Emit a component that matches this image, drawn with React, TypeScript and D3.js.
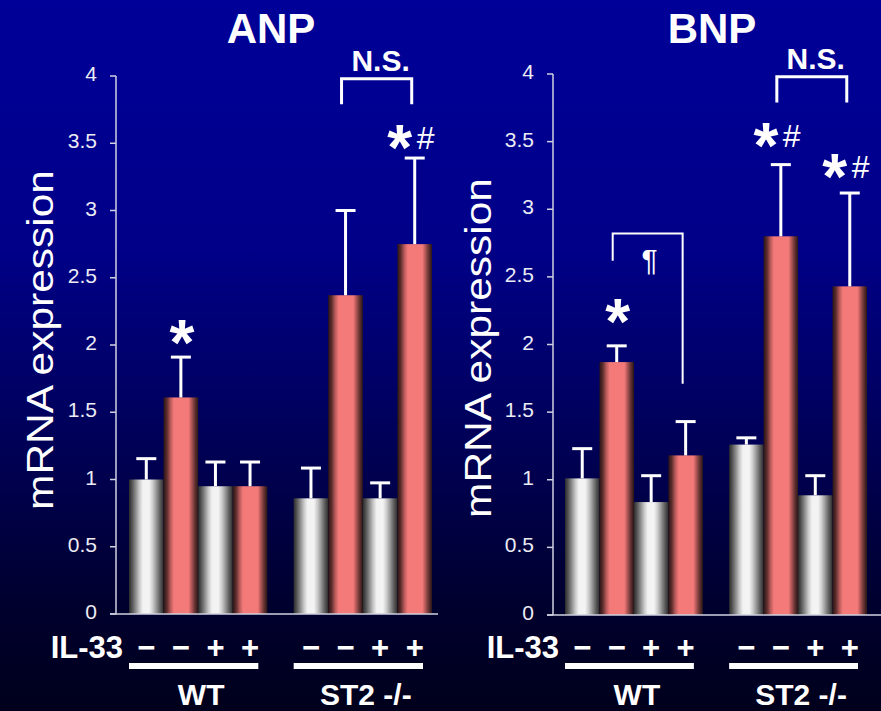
import React from "react";
import * as d3 from "d3";

const groups = ["WT", "ST2 -/-"];
const il33 = ["\u2212", "\u2212", "+", "+"];
const barKinds = ["white", "pink", "white", "pink"];
const yTicks = [0, 0.5, 1, 1.5, 2, 2.5, 3, 3.5, 4];

// ANP: mean and SE (upper error bar only)
const anpMean = [1.0, 1.61, 0.95, 0.95, 0.86, 2.37, 0.86, 2.75];
const anpSE = [0.155, 0.3, 0.18, 0.18, 0.225, 0.63, 0.115, 0.64];

// BNP
const bnpMean = [1.01, 1.87, 0.835, 1.18, 1.26, 2.8, 0.885, 2.43];
const bnpSE = [0.22, 0.12, 0.195, 0.25, 0.05, 0.53, 0.145, 0.69];

const font = "'Liberation Sans', Arial, sans-serif";

const panels = [
  {
    title: "ANP",
    titleX: 271,
    mean: anpMean,
    se: anpSE,
    axisX: 116,
    y0: 614,
    y4: 76,
    barRange: [129, 432],
    baseEnd: 438,
    labelX: 53,
    labelY: 340,
    marks: [
      { bar: 1, hash: false, dy: 24 },
      { bar: 7, hash: true, dy: 20 },
    ],
    brackets: [{ a: 5, b: 7, top: 3.98, left: 3.79, right: 3.79, text: "N.S.", sw: 3 }],
  },
  {
    title: "BNP",
    titleX: 712,
    mean: bnpMean,
    se: bnpSE,
    axisX: 553,
    y0: 615,
    y4: 74,
    barRange: [565, 867],
    baseEnd: 881,
    labelX: 491,
    labelY: 348,
    marks: [
      { bar: 1, hash: false, dy: 34 },
      { bar: 5, hash: true, dy: 29 },
      { bar: 7, hash: true, dy: 26 },
    ],
    brackets: [
      { a: 5, b: 7, top: 3.98, left: 3.79, right: 3.79, text: "N.S.", sw: 3 },
      { a: 1, b: 3, top: 2.82, left: 2.62, right: 1.71, text: "\u00b6", sw: 2 },
    ],
  },
];

function Panel({ p }) {
  const y = d3.scaleLinear().domain([0, 4]).range([p.y0, p.y4]);
  const xg = d3.scaleBand().domain(groups).range(p.barRange).paddingInner(0.16);
  const xb = d3.scaleBand().domain(d3.range(4)).range([0, xg.bandwidth()]);

  const bars = p.mean.map((m, i) => {
    const g = groups[Math.floor(i / 4)];
    const k = i % 4;
    const x = xg(g) + xb(k);
    return {
      x,
      w: xb.bandwidth(),
      cx: x + xb.bandwidth() / 2,
      m,
      top: m + p.se[i],
      kind: barKinds[k],
    };
  });

  return (
    <g>
      <text x={p.titleX} y={43} textAnchor="middle" fill="#fff" fontSize={42} fontWeight="bold" fontFamily={font}>
        {p.title}
      </text>

      {/* y axis */}
      <line x1={p.axisX} x2={p.axisX} y1={y(0)} y2={y(4)} stroke="#d0d0e0" strokeWidth={1.5} />
      {yTicks.map((t) => (
        <g key={t}>
          <line x1={p.axisX - 6} x2={p.axisX} y1={y(t)} y2={y(t)} stroke="#d0d0e0" strokeWidth={1.5} />
          <text x={p.axisX - 19} y={y(t) + 5} textAnchor="end" fill="#ececf4" fontSize={21} fontFamily={font}>
            {t}
          </text>
        </g>
      ))}
      <text
        transform={`translate(${p.labelX},${p.labelY}) rotate(-90)`}
        textAnchor="middle"
        fill="#fff"
        fontSize={36}
        fontFamily={font}
        textLength={340}
        lengthAdjust="spacingAndGlyphs"
      >
        mRNA expression
      </text>

      {/* bars */}
      {bars.map((d, i) => (
        <rect key={i} x={d.x} y={y(d.m)} width={d.w} height={y(0) - y(d.m)} fill={`url(#grad-${d.kind})`} />
      ))}
      <line x1={p.axisX - 6} x2={p.baseEnd} y1={y(0)} y2={y(0)} stroke="#d0d0e0" strokeWidth={1.5} />

      {/* error bars */}
      {bars.map((d, i) => (
        <g key={i} stroke="#fff" strokeWidth={3}>
          <line x1={d.cx} x2={d.cx} y1={y(d.m)} y2={y(d.top)} />
          <line x1={d.cx - 10} x2={d.cx + 10} y1={y(d.top)} y2={y(d.top)} />
        </g>
      ))}

      {/* significance marks */}
      {p.marks.map((mk, i) => {
        const d = bars[mk.bar];
        const cy = y(d.top) - mk.dy;
        const sx = mk.hash ? d.cx - 15 : d.cx + 1;
        return (
          <g key={i} fill="#fff" fontFamily={font}>
            <text x={sx} y={cy + 32} textAnchor="middle" fontSize={64} fontWeight="bold">
              *
            </text>
            {mk.hash && (
              <text x={d.cx + 2} y={cy + 11} fontSize={32}>
                #
              </text>
            )}
          </g>
        );
      })}

      {p.brackets.map((b, i) => {
        const xa = bars[b.a].cx - 4;
        const xbb = bars[b.b].cx - 3;
        const isNS = b.text === "N.S.";
        return (
          <g key={i}>
            <path
              d={`M${xa},${y(b.left)}V${y(b.top)}H${xbb}V${y(b.right)}`}
              fill="none"
              stroke="#fff"
              strokeWidth={b.sw}
            />
            {isNS ? (
              <text x={(xa + xbb) / 2 + 4} y={y(b.top) - 8} textAnchor="middle" fill="#fff" fontSize={30} fontWeight="bold" fontFamily={font}>
                {b.text}
              </text>
            ) : (
              <text x={(xa + xbb) / 2 + 2} y={y(b.top) + 36} textAnchor="middle" fill="#fff" fontSize={30} fontFamily={font}>
                {b.text}
              </text>
            )}
          </g>
        );
      })}

      {/* IL-33 row */}
      <text x={p.barRange[0] - 6} y={658} textAnchor="end" fill="#fff" fontSize={31} fontWeight="bold" fontFamily={font}>
        IL-33
      </text>
      {bars.map((d, i) => (
        <text key={i} x={d.cx} y={658} textAnchor="middle" fill="#fff" fontSize={31} fontWeight="bold" fontFamily={font}>
          {il33[i % 4]}
        </text>
      ))}
      {groups.map((g) => (
        <g key={g}>
          <rect x={xg(g)} y={663} width={xg.bandwidth() - 9} height={6} fill="#fff" />
          <text
            x={xg(g) + xg.bandwidth() / 2 + 3}
            y={705}
            textAnchor="middle"
            fill="#fff"
            fontSize={30}
            fontWeight="bold"
            fontFamily={font}
          >
            {g}
          </text>
        </g>
      ))}
    </g>
  );
}

export default function App() {
  const width = 881;
  const height = 711;
  return (
    <div style={{ position: "absolute", left: 0, top: 0 }}>
      <svg width={width} height={height} style={{ display: "block" }}>
        <defs>
          <linearGradient id="bg" x1="0" y1="0" x2="0" y2="1">
            <stop offset="0" stopColor="#000098" />
            <stop offset="0.35" stopColor="#000088" />
            <stop offset="0.55" stopColor="#000064" />
            <stop offset="0.85" stopColor="#00002e" />
            <stop offset="1" stopColor="#00001c" />
          </linearGradient>
          <linearGradient id="grad-white" x1="0" y1="0" x2="1" y2="0">
            <stop offset="0" stopColor="#2a2a2a" />
            <stop offset="0.1" stopColor="#5a5a5a" />
            <stop offset="0.2" stopColor="#909090" />
            <stop offset="0.3" stopColor="#c8c8c8" />
            <stop offset="0.4" stopColor="#f2f2f2" />
            <stop offset="0.58" stopColor="#f4f4f4" />
            <stop offset="0.68" stopColor="#cfcfcf" />
            <stop offset="0.78" stopColor="#9c9c9c" />
            <stop offset="0.88" stopColor="#666" />
            <stop offset="1" stopColor="#2c2c2c" />
          </linearGradient>
          <linearGradient id="grad-pink" x1="0" y1="0" x2="1" y2="0">
            <stop offset="0" stopColor="#2a1414" />
            <stop offset="0.1" stopColor="#5e2e2e" />
            <stop offset="0.2" stopColor="#b85a5a" />
            <stop offset="0.3" stopColor="#f47a7a" />
            <stop offset="0.72" stopColor="#f47a7a" />
            <stop offset="0.8" stopColor="#b85a5a" />
            <stop offset="0.9" stopColor="#683434" />
            <stop offset="1" stopColor="#2a1515" />
          </linearGradient>
        </defs>
        <rect width={width} height={height} fill="url(#bg)" />
        {panels.map((p) => (
          <Panel key={p.title} p={p} />
        ))}
      </svg>
    </div>
  );
}
